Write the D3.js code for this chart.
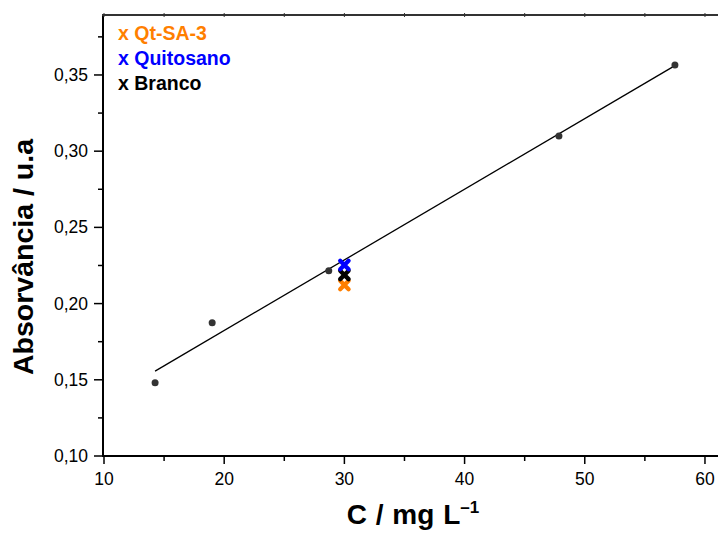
<!DOCTYPE html>
<html>
<head>
<meta charset="utf-8">
<script src="https://cdn.jsdelivr.net/npm/d3@7"></script>
<style>
  body { margin: 0; background: #fff; }
  svg { font-family: "Liberation Sans", Arial, sans-serif; }
</style>
</head>
<body>
<svg width="718" height="533"></svg>
<script>
// calibration points
var conc = [14.25, 19.0, 28.7, 47.85, 57.5];
var absorb = [0.148, 0.1875, 0.2215, 0.310, 0.3565];

// samples measured at 30 mg/L
var sampleNames = ["Qt-SA-3", "Quitosano", "Branco"];
var sampleConc = [30, 30, 30];
var sampleAbs = [0.2122, 0.2253, 0.2188];

var xTicks = [10, 20, 30, 40, 50, 60];
var yTicks = [0.10, 0.15, 0.20, 0.25, 0.30, 0.35];

var sampleColor = {"Qt-SA-3": "#ff7f00", "Quitosano": "#0000ff", "Branco": "#000000"};

var svg = d3.select("svg");

var x = d3.scaleLinear().domain([10, 61.5]).range([104, 723]);
var y = d3.scaleLinear().domain([0.10, 0.39]).range([456, 14]);

// minor ticks
var xMinor = d3.range(15, 61, 10);
var yMinor = d3.range(0.125, 0.39, 0.05);

// left axis
var gy = svg.append("g").attr("transform", "translate(103,0)");
gy.append("line").attr("y1", 14).attr("y2", 457).attr("stroke", "#000").attr("stroke-width", 2);
gy.selectAll(".maj").data(yTicks).enter().append("line")
    .attr("x1", -9).attr("x2", 0)
    .attr("y1", function (d) { return y(d); }).attr("y2", function (d) { return y(d); })
    .attr("stroke", "#000").attr("stroke-width", 1.5);
gy.selectAll(".min").data(yMinor).enter().append("line")
    .attr("x1", -5).attr("x2", 0)
    .attr("y1", function (d) { return y(d); }).attr("y2", function (d) { return y(d); })
    .attr("stroke", "#000").attr("stroke-width", 1.5);
gy.selectAll("text").data(yTicks).enter().append("text")
    .attr("x", -15).attr("y", function (d) { return y(d) + 6; })
    .attr("text-anchor", "end").attr("font-size", 17.5)
    .text(function (d) { return d3.format(".2f")(d).replace(".", ","); });

// bottom axis
var gx = svg.append("g").attr("transform", "translate(0,456)");
gx.append("line").attr("x1", 102).attr("x2", 718).attr("stroke", "#000").attr("stroke-width", 2);
gx.selectAll(".maj").data(xTicks).enter().append("line")
    .attr("x1", function (d) { return x(d); }).attr("x2", function (d) { return x(d); })
    .attr("y1", 0).attr("y2", 8).attr("stroke", "#000").attr("stroke-width", 1.5);
gx.selectAll(".min").data(xMinor).enter().append("line")
    .attr("x1", function (d) { return x(d); }).attr("x2", function (d) { return x(d); })
    .attr("y1", 0).attr("y2", 5).attr("stroke", "#000").attr("stroke-width", 1.5);
gx.selectAll("text").data(xTicks).enter().append("text")
    .attr("x", function (d) { return x(d); }).attr("y", 29)
    .attr("text-anchor", "middle").attr("font-size", 17.5)
    .text(function (d) { return d; });

// top frame
var gt = svg.append("g").attr("transform", "translate(0,15)");
gt.append("line").attr("x1", 102).attr("x2", 718).attr("stroke", "#333").attr("stroke-width", 2);
gt.selectAll(".t").data(xTicks.concat(xMinor)).enter().append("line")
    .attr("x1", function (d) { return x(d); }).attr("x2", function (d) { return x(d); })
    .attr("y1", -2).attr("y2", 2).attr("stroke", "#333").attr("stroke-width", 1);

// axis titles
svg.append("text")
    .attr("x", 413).attr("y", 524)
    .attr("text-anchor", "middle").attr("font-size", 28).attr("font-weight", "bold")
    .attr("word-spacing", 1)
    .text("C / mg L")
    .append("tspan").attr("dy", -11).attr("font-size", 17).text("\u20131");

svg.append("text")
    .attr("transform", "translate(33,257) rotate(-90)")
    .attr("text-anchor", "middle").attr("font-size", 28.5).attr("font-weight", "bold")
    .text("Absorvância / u.a");

// linear fit
var mx = d3.mean(conc), my = d3.mean(absorb);
var sxy = d3.sum(conc, function (c, i) { return (c - mx) * (absorb[i] - my); });
var sxx = d3.sum(conc, function (c) { return (c - mx) * (c - mx); });
var slope = sxy / sxx, icpt = my - slope * mx;
var ext = d3.extent(conc);
svg.append("path")
    .datum(ext.map(function (c) { return [c, icpt + slope * c]; }))
    .attr("fill", "none").attr("stroke", "#000").attr("stroke-width", 1.3)
    .attr("d", d3.line().x(function (d) { return x(d[0]); }).y(function (d) { return y(d[1]); }));

// calibration points
svg.selectAll(".pt").data(conc).enter().append("circle")
    .attr("cx", function (d) { return x(d); })
    .attr("cy", function (d, i) { return y(absorb[i]); })
    .attr("r", 3.5).attr("fill", "#333");

// sample markers, drawn orange, black, blue
var order = [0, 2, 1];
var s = 4.2;
order.forEach(function (i) {
    var cx = x(sampleConc[i]), cy = y(sampleAbs[i]);
    svg.append("path")
        .attr("d", "M" + (cx - s) + "," + (cy - s) + "L" + (cx + s) + "," + (cy + s) +
            "M" + (cx + s) + "," + (cy - s) + "L" + (cx - s) + "," + (cy + s))
        .attr("stroke", sampleColor[sampleNames[i]]).attr("stroke-width", 4.3)
        .attr("stroke-linecap", "round");
});

// legend
svg.selectAll(".leg").data(sampleNames).enter().append("text")
    .attr("x", 118).attr("y", function (d, i) { return 40 + i * 25; })
    .attr("font-size", 19.5).attr("font-weight", "bold")
    .attr("fill", function (d) { return sampleColor[d]; })
    .text(function (d) { return "x " + d; });
</script>
</body>
</html>
